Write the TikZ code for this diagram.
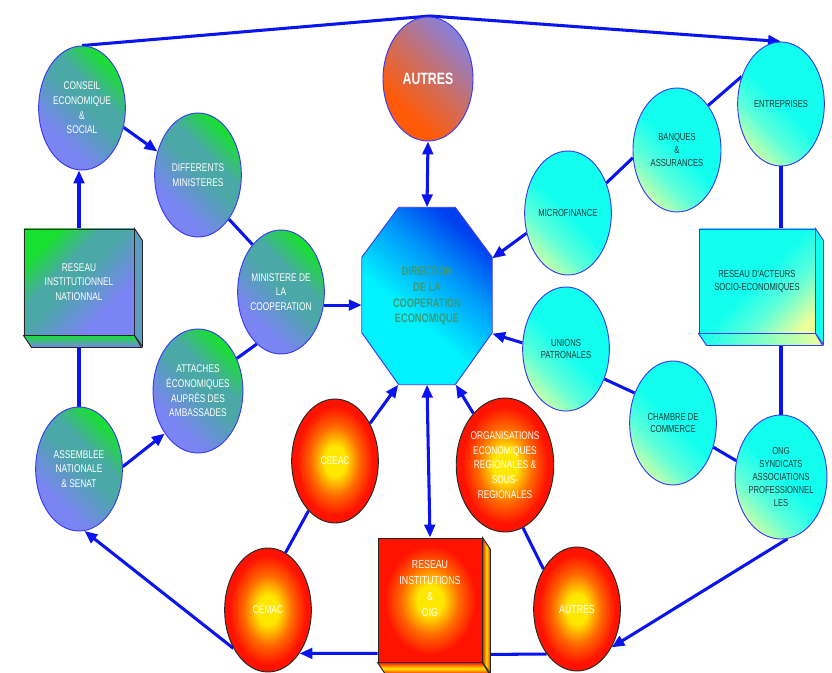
\documentclass[tikz,border=0pt]{standalone}
\usepackage{fontspec}
\setmainfont{Liberation Sans}
\newfontfamily\condsf[FakeStretch=0.75]{Liberation Sans}
\usetikzlibrary{arrows.meta,shapes.geometric,backgrounds}

\definecolor{gnGreen}{HTML}{18E030}
\definecolor{gnTeal}{HTML}{4AA8A6}
\definecolor{gnBlue}{HTML}{7A84F2}
\definecolor{cyMain}{HTML}{12FFF0}
\definecolor{cyMid}{HTML}{60FFD8}
\definecolor{cyYel}{HTML}{EEFF99}
\definecolor{edgeBlue}{HTML}{3A3AF4}
\definecolor{lineBlue}{HTML}{0A14F0}
\definecolor{txtDark}{HTML}{1E3A3A}
\definecolor{txtDir}{HTML}{3C9A78}
\definecolor{dirCyan}{HTML}{00F2FF}
\definecolor{dirMid}{HTML}{0098FA}
\definecolor{dirBlue}{HTML}{0040F0}
\definecolor{auOrange}{HTML}{FF5A08}
\definecolor{auMid}{HTML}{CC6E62}
\definecolor{auViolet}{HTML}{8A80D8}
\definecolor{rdRed}{HTML}{FF1200}
\definecolor{rdOrange}{HTML}{FF6A00}
\definecolor{rdYellow}{HTML}{FFE800}

% fills of the ovals and boxes
\pgfdeclareverticalshading{greenish}{100bp}{color(0bp)=(gnBlue); color(32bp)=(gnBlue); color(52bp)=(gnTeal); color(60bp)=(gnTeal); color(74bp)=(gnGreen); color(100bp)=(gnGreen)}
\pgfdeclareverticalshading{cyanish}{100bp}{color(0bp)=(cyYel); color(20bp)=(cyYel); color(36bp)=(cyMid); color(50bp)=(cyMain); color(100bp)=(cyMain)}
\pgfdeclareverticalshading{dirshade}{100bp}{color(0bp)=(dirCyan); color(42bp)=(dirCyan); color(60bp)=(dirMid); color(74bp)=(dirBlue); color(100bp)=(dirBlue)}
\pgfdeclareverticalshading{autreshade}{100bp}{color(0bp)=(auOrange); color(32bp)=(auOrange); color(52bp)=(auMid); color(74bp)=(auViolet); color(100bp)=(auViolet)}
\pgfdeclareradialshading{redball}{\pgfpoint{0bp}{0bp}}{color(0bp)=(rdYellow); color(6bp)=(rdYellow); color(14bp)=(rdOrange); color(22bp)=(rdRed); color(50bp)=(rdRed)}

\newcommand\lab{\condsf\fontsize{9.5}{12.5}\selectfont}
\newcommand\labdark{\condsf\fontsize{8.7}{11}\selectfont}

\begin{document}
\begin{tikzpicture}[
  x=0.03cm,y=-0.03cm,
  oval/.style={ellipse,minimum width=2.6cm,minimum height=3.72cm,inner sep=0pt,align=center},
  greenoval/.style={oval,draw=edgeBlue,line width=0.8pt,shading=greenish,shading angle=-45,text=white,font=\lab},
  cyanoval/.style={oval,draw=edgeBlue,line width=0.8pt,shading=cyanish,shading angle=-45,text=txtDark,font=\labdark},
  redoval/.style={oval,draw=black!85,line width=0.8pt,shading=redball,text=white,font=\lab},
  front/.style={rectangle,inner sep=0pt,align=center,line width=0.8pt},
  flow/.style={-{Triangle[length=11pt,width=9pt]},line width=2.6pt,lineBlue},
  both/.style={{Triangle[length=11pt,width=9pt]}-{Triangle[length=11pt,width=9pt]},line width=2.6pt,lineBlue},
  link/.style={line width=2.6pt,lineBlue}
]
\useasboundingbox (0,0) rectangle (832,673);

% left: national institutions
\node[greenoval] (ces) at (82,108) {CONSEIL\\ECONOMIQUE\\\&\\SOCIAL};
\node[greenoval] (diff) at (198,175) {DIFFERENTS\\MINISTERES};
\node[greenoval] (minco) at (281,292) {MINISTERE DE\\LA\\COOPERATION};
\node[greenoval] (att) at (198,391) {ATTACHES\\ÉCONOMIQUES\\AUPRÈS DES\\AMBASSADES};
\node[greenoval] (asm) at (79,469) {ASSEMBLEE\\NATIONALE\\\& SENAT};
\node[front,draw=black!85,minimum width=3.3cm,minimum height=3.18cm,
  shading=greenish,shading angle=45,text=white,font=\lab] (rin) at (79,282)
  {RESEAU\\INSTITUTIONNEL\\NATIONNAL};
\fill[gnTeal!60!gnBlue,draw=black!85,line width=0.8pt]
  (rin.north east) -- ++(8,12) -- ++(0,106) -- (rin.south east) -- cycle;
\shade[top color=gnGreen,bottom color=gnBlue,draw=black!85,line width=0.8pt]
  (rin.south west) -- ++(8,12) -- ++(110,0) -- (rin.south east) -- cycle;

% centre
\node[greenoval,shading=autreshade,shading angle=-45,minimum width=2.7cm,
  font=\condsf\bfseries\fontsize{14}{16}\selectfont] (autresA) at (428,79) {AUTRES};
\node[rectangle,minimum width=3.9cm,minimum height=5.31cm,inner sep=0pt,align=center,
  text=txtDir,font=\condsf\bfseries\fontsize{10.5}{13.6}\selectfont] (dir) at (427,296)
  {DIRECTION\\DE LA\\COOPERATION\\ECONOMIQUE};
\begin{scope}[on background layer]
  \fill[white] (0,0) rectangle (832,673);
  \shade[shading=dirshade,shading angle=-40,draw=edgeBlue,line width=0.8pt]
    ([xshift=1.11cm]dir.north west) -- ([xshift=-1.11cm]dir.north east)
    -- ([yshift=-1.5cm]dir.north east) -- ([yshift=1.56cm]dir.south east)
    -- ([xshift=-1.11cm]dir.south east) -- ([xshift=1.11cm]dir.south west)
    -- ([yshift=1.56cm]dir.south west) -- ([yshift=-1.5cm]dir.north west) -- cycle;
\end{scope}

% right: socio-economic actors
\node[cyanoval] (ent) at (781,104) {ENTREPRISES};
\node[cyanoval,minimum width=2.64cm] (bq) at (677,150) {BANQUES\\\&\\ASSURANCES};
\node[cyanoval] (micro) at (568,213) {MICROFINANCE};
\node[cyanoval] (unions) at (566,349) {UNIONS\\PATRONALES};
\node[cyanoval] (ch) at (673,423) {CHAMBRE DE\\COMMERCE};
\node[cyanoval] (ong) at (781,477) {ONG\\SYNDICATS\\ASSOCIATIONS\\PROFESSIONNEL\\LES};
\node[front,draw=edgeBlue,minimum width=3.48cm,minimum height=3.12cm,
  shading=cyanish,shading angle=45,text=txtDark,font=\labdark] (rac) at (757,281)
  {RESEAU D'ACTEURS\\SOCIO-ECONOMIQUES};
\fill[cyMain,draw=edgeBlue,line width=0.8pt]
  (rac.north east) -- ++(8,12) -- ++(0,104) -- (rac.south east) -- cycle;
\shade[left color=cyMain,right color=cyYel,draw=edgeBlue,line width=0.8pt]
  (rac.south west) -- ++(8,12) -- ++(116,0) -- (rac.south east) -- cycle;

% bottom: regional organisations
\node[redoval] (ceeac) at (335,461) {CEEAC};
\node[redoval,minimum width=2.88cm,minimum height=4.02cm] (org) at (505,465)
  {ORGANISATIONS\\ECONOMIQUES\\REGIONALES \&\\SOUS-\\REGIONALES};
\node[redoval] (cemac) at (268,610) {CEMAC};
\node[redoval,font=\condsf\fontsize{10}{12.5}\selectfont] (autresB) at (577,609) {AUTRES};
\node[front,draw=black!85,minimum width=3.12cm,minimum height=3.72cm,
  shading=redball,text=white,font=\condsf\fontsize{10}{13.6}\selectfont] (oig) at (430,600)
  {RESEAU\\INSTITUTIONS\\\&\\OIG\\[6pt]};
\shade[left color=rdRed,right color=rdRed,middle color=rdYellow,draw=black!85,line width=0.8pt]
  (oig.north east) -- ++(8,12) -- ++(0,124) -- (oig.south east) -- cycle;
\shade[top color=rdRed,bottom color=rdRed,middle color=rdYellow,draw=black!85,line width=0.8pt]
  (oig.south west) -- ++(8,12) -- ++(104,0) -- (oig.south east) -- cycle;

\begin{scope}[on background layer]
  \coordinate (peak) at (430,16);
  \draw[flow] (ces.north) -- (peak) -- (ent.north);
  \draw[flow] (rin.north) -- (rin.north |- ces.south);
  \draw[link] (rin.south) -- (asm.north);
  \draw[flow] (ces.-25) -- (diff.150);
  \draw[link] (diff.-55) -- (minco.121);
  \draw[link] (att.40) -- (minco.-115);
  \draw[flow] (minco.-17) -- (dir.west |- minco.-17);
  \draw[flow] (asm.3) -- (att.-128);
  \draw[flow] (cemac.-132) -- (asm.-85);
  \draw[flow] ([yshift=0.27cm]oig.south west) -- (cemac.-54);
  \draw[link] (cemac.73) -- (ceeac.-118);
  \draw[flow] (ceeac.47) -- (dir.-108);
  \draw[both] (dir.south) -- (oig.north);
  \draw[both] (dir.north) -- (autresA.south);
  \draw[flow] (org) -- (dir.-72);
  \draw[link] (org.-74) -- (autresB.130);
  \draw[link] ([yshift=0.24cm]oig.south east) -- (autresB.-124);
  \draw[flow] (ong.-84) -- (autresB.-48);
  \draw[link] (ent.south) -- (ent.south |- rac.north);
  \draw[link] (ong.north |- rac.south) -- (ong.north);
  \draw[link] (ent.145) -- (bq.55);
  \draw[link] (bq.190) -- (micro.38);
  \draw[flow] (micro.206) -- (dir.30);
  \draw[flow] (unions.172) -- (dir.-30);
  \draw[link] (unions.-38) -- (ch.142);
  \draw[link] (ch.-31) -- (ong.160);
\end{scope}
\end{tikzpicture}
\end{document}
